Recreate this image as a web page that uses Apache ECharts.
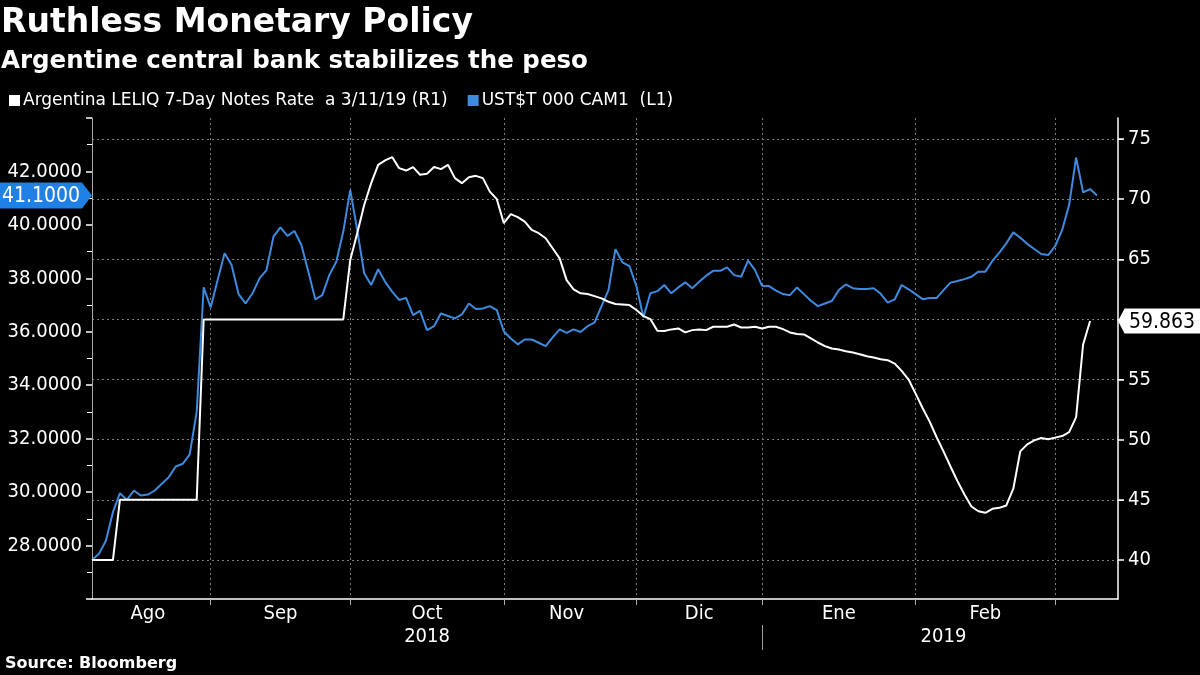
<!DOCTYPE html>
<html>
<head>
<meta charset="utf-8">
<script src="https://cdn.jsdelivr.net/npm/echarts@6/dist/echarts.min.js"></script>
<style>
html,body{margin:0;padding:0;background:#000;}
#chart{width:1200px;height:675px;}
</style>
</head>
<body>
<div id="chart"></div>
<script>
// ---- data (trading-day axis) ----
const monthLabels = ['Ago','Sep','Oct','Nov','Dic','Ene','Feb','Mar'];
const monthYears  = ['2018','2018','2018','2018','2018','2019','2019','2019'];
const monthLengths = [17,20,22,19,18,22,20,10];
const labelledMonths = 7;
const yearLabels = ['2018','2019'];
const leftTickLabels = [28,30,32,34,36,38,40,42];
const rightTickLabels = [40,45,50,55,60,65,70,75];

// UST$T 000 CAM1 (L1) - USD/ARS
const usdArs = [
27.46,27.69,28.19,29.25,29.96,29.71,30.06,29.87,29.91,30.06,
30.31,30.56,30.96,31.06,31.41,33.0,37.66,36.91,37.94,38.94,
38.5,37.41,37.06,37.44,38.0,38.31,39.56,39.91,39.59,39.77,
39.25,38.25,37.21,37.37,38.12,38.62,39.75,41.31,39.81,38.19,
37.75,38.34,37.87,37.5,37.19,37.27,36.62,36.78,36.06,36.21,
36.69,36.59,36.5,36.65,37.06,36.85,36.87,36.96,36.81,36.02,
35.75,35.53,35.71,35.71,35.59,35.46,35.79,36.09,35.96,36.09,
35.99,36.21,36.34,36.96,37.56,39.09,38.6,38.46,37.71,36.54,
37.44,37.52,37.75,37.44,37.66,37.85,37.63,37.87,38.1,38.28,
38.28,38.41,38.12,38.06,38.66,38.31,37.72,37.71,37.54,37.41,
37.37,37.66,37.41,37.16,36.96,37.06,37.15,37.56,37.77,37.63,
37.6,37.6,37.63,37.42,37.09,37.21,37.75,37.59,37.41,37.22,
37.26,37.26,37.56,37.84,37.9,37.97,38.06,38.25,38.25,38.65,
38.96,39.31,39.72,39.52,39.29,39.1,38.91,38.87,39.21,39.81,
40.75,42.52,41.22,41.34,41.10
];

// Argentina LELIQ 7-Day Notes Rate (R1)
const leliq = [
40,40,40,40,45,45,45,45,45,45,
45,45,45,45,45,45,60,60,60,60,
60,60,60,60,60,60,60,60,60,60,
60,60,60,60,60,60,60,64.94,67.17,69.52,
71.33,72.86,73.22,73.5,72.58,72.38,72.67,72.03,72.11,72.67,
72.5,72.86,71.75,71.33,71.83,71.94,71.75,70.63,70.0,68.0,
68.75,68.5,68.13,67.44,67.17,66.75,65.92,65.08,63.27,62.5,
62.17,62.11,61.94,61.75,61.47,61.28,61.25,61.19,60.78,60.28,
60.03,59.05,59.03,59.17,59.25,58.92,59.11,59.17,59.11,59.39,
59.39,59.39,59.58,59.33,59.33,59.39,59.25,59.39,59.39,59.19,
58.92,58.78,58.75,58.42,58.08,57.78,57.58,57.5,57.36,57.25,
57.11,56.94,56.83,56.69,56.61,56.33,55.72,55.0,53.83,52.63,
51.52,50.22,49.03,47.77,46.55,45.44,44.44,44.05,43.92,44.25,
44.33,44.53,45.92,49.03,49.61,49.94,50.14,50.03,50.17,50.3,
50.63,51.88,57.92,59.863
];

// ---- build categories ----
const categories = [];
const monthStart = [];
const monthMid = [];
let pos = 0;
monthLengths.forEach(function (len, m) {
  monthStart.push(pos);
  monthMid.push(pos + Math.floor(len / 2));
  for (let k = 0; k < len; k++) {
    categories.push(monthYears[m] + '-' + monthLabels[m] + '-' + (k + 1));
  }
  pos += len;
});
const boundaryIdx = monthStart.slice(1);
const monthLabelIdx = monthMid.slice(0, labelledMonths);
const yearFirst = [], yearMid = [];
yearLabels.forEach(function (y) {
  const idxs = [];
  categories.forEach(function (c, i) { if (c.split('-')[0] === y) idxs.push(i); });
  yearFirst.push(idxs[0]);
  yearMid.push(idxs[0] + Math.floor(idxs.length / 2));
});
const yearSepIdx = yearFirst.slice(1);

const COND = "'DejaVu Sans Condensed', 'DejaVu Sans', sans-serif";
const REG = "'DejaVu Sans', sans-serif";
const BOLD = "'DejaVu Sans', sans-serif";
const BLUE = '#3d8ade';
const GRID = '#7a7a7a';

const chart = echarts.init(document.getElementById('chart'), null, {renderer: 'canvas'});

const leftLast = usdArs[usdArs.length - 1];
const rightLast = leliq[leliq.length - 1];

chart.setOption({
  backgroundColor: '#000',
  animation: false,
  title: [{
    text: 'Ruthless Monetary Policy',
    subtext: 'Argentine central bank stabilizes the peso',
    left: 1, top: 7, padding: 0, itemGap: 9,
    textStyle: {color: '#fff', fontSize: 33, fontWeight: 'bold', fontFamily: BOLD},
    subtextStyle: {color: '#fff', fontSize: 24.5, fontWeight: 'bold', fontFamily: BOLD}
  }, {
    text: 'Source: Bloomberg',
    left: 5, bottom: 3, padding: 0,
    textStyle: {color: '#fff', fontSize: 16, fontWeight: 'bold', fontFamily: BOLD}
  }],
  legend: {
    left: 9, top: 92, padding: 0,
    itemWidth: 11, itemHeight: 11, itemGap: 20,
    icon: 'rect',
    textStyle: {color: '#fff', fontSize: 17, fontFamily: REG, padding: [0, 0, 0, -2]},
    data: ['Argentina LELIQ 7-Day Notes Rate  a 3/11/19 (R1)', 'UST$T 000 CAM1  (L1)']
  },
  grid: {left: 92, right: 82, top: 118, bottom: 76, containLabel: false},
  xAxis: [{
    type: 'category',
    data: categories,
    boundaryGap: false,
    axisLine: {show: true, lineStyle: {color: '#fff', width: 1.5}},
    axisTick: {show: true, length: 6, interval: function (i) { return boundaryIdx.indexOf(i) >= 0; },
               lineStyle: {color: '#aaa'}},
    axisLabel: {show: true, interval: function (i) { return monthLabelIdx.indexOf(i) >= 0; },
                formatter: function (v) { return v.split('-')[1]; },
                color: '#fff', fontSize: 20, fontFamily: COND, margin: 5},
    splitLine: {show: true, interval: function (i) { return boundaryIdx.indexOf(i) >= 0; },
                lineStyle: {color: GRID, type: [2, 3], width: 1}}
  }, {
    type: 'category',
    data: categories,
    boundaryGap: false,
    position: 'bottom',
    offset: 26,
    axisLine: {show: false},
    axisTick: {show: true, length: 25, interval: function (i) { return yearSepIdx.indexOf(i) >= 0; },
               lineStyle: {color: '#999'}},
    axisLabel: {show: true, interval: function (i) { return yearMid.indexOf(i) >= 0; },
                formatter: function (v) { return v.split('-')[0]; },
                color: '#fff', fontSize: 20, fontFamily: COND, margin: 2},
    splitLine: {show: false}
  }],
  yAxis: [{
    type: 'value',
    position: 'left',
    min: 26, max: 44, interval: 2,
    axisLine: {show: true, lineStyle: {color: '#aaa', width: 1}},
    axisTick: {show: true, length: 6, lineStyle: {color: '#fff', width: 1.5}},
    minorTick: {show: true, splitNumber: 2, length: 5, lineStyle: {color: '#fff'}},
    axisLabel: {color: '#fff', fontSize: 20, fontFamily: COND, margin: 10,
                formatter: function (v) { return leftTickLabels.indexOf(v) >= 0 ? v.toFixed(4) : ''; }},
    splitLine: {show: false}
  }, {
    type: 'value',
    position: 'right',
    min: 36.75, max: 76.75,
    axisLine: {show: true, lineStyle: {color: '#fff', width: 1.5}},
    axisTick: {show: true, length: 6, customValues: rightTickLabels, lineStyle: {color: '#fff', width: 1.5}},
    minorTick: {show: true, splitNumber: 2, length: 5, lineStyle: {color: '#fff'}},
    axisLabel: {customValues: rightTickLabels, color: '#fff', fontSize: 20, fontFamily: COND, margin: 10},
    splitLine: {show: true, lineStyle: {color: GRID, type: [2, 3], width: 1}}
  }],
  series: [{
    name: 'Argentina LELIQ 7-Day Notes Rate  a 3/11/19 (R1)',
    type: 'line',
    xAxisIndex: 0,
    yAxisIndex: 1,
    data: leliq,
    showSymbol: false,
    symbol: 'none',
    clip: false,
    itemStyle: {color: '#ffffff'},
    lineStyle: {color: '#ffffff', width: 2},
    z: 3,
    markPoint: {
      symbol: 'path://M8,0 L100,0 L100,24 L8,24 L0,12 Z',
      symbolSize: [82, 25],
      symbolOffset: ['50%', 0],
      silent: true,
      itemStyle: {color: '#ffffff'},
      label: {show: true, position: 'inside', offset: [3, 1], color: '#000', fontSize: 21, fontFamily: COND,
              formatter: function () { return rightLast.toFixed(3); }},
      data: [{coord: [categories[categories.length - 1], rightLast]}]
    }
  }, {
    name: 'UST$T 000 CAM1  (L1)',
    type: 'line',
    xAxisIndex: 0,
    yAxisIndex: 0,
    data: usdArs,
    showSymbol: false,
    symbol: 'none',
    clip: false,
    itemStyle: {color: BLUE},
    lineStyle: {color: BLUE, width: 2},
    z: 2,
    markPoint: {
      symbol: 'path://M0,0 L82,0 L92,12 L82,24 L0,24 Z',
      symbolSize: [92, 26],
      symbolOffset: ['-50%', 0],
      silent: true,
      itemStyle: {color: '#1f80e6'},
      label: {show: true, position: 'inside', offset: [-5, 1], color: '#fff', fontSize: 21, fontFamily: COND,
              formatter: function () { return leftLast.toFixed(4); }},
      data: [{coord: [categories[0], leftLast]}]
    }
  }]
});
</script>
</body>
</html>
